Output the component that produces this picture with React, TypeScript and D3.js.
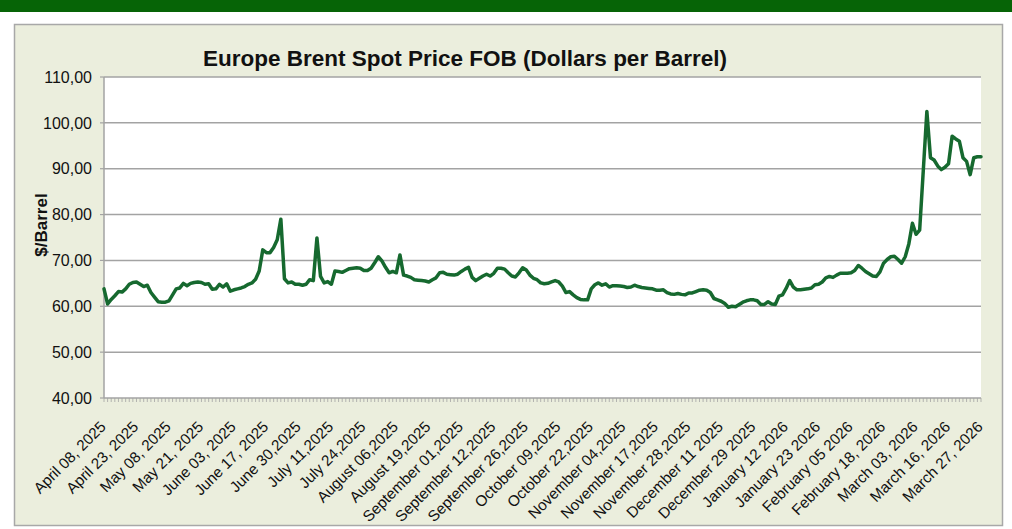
import * as d3 from 'd3'

const TITLE = 'Europe Brent Spot Price FOB (Dollars per Barrel)'
const Y_TITLE = '$/Barrel'

// daily Brent price, one value per trading day
const BRENT_PRICES = [
  63.8, 60.5, 61.5, 62.3, 63.2, 63.1, 63.8, 64.8, 65.2, 65.3,
  64.8, 64.3, 64.6, 63.0, 62.0, 61.0, 60.9, 60.9, 61.2, 62.5,
  63.8, 64.0, 65.0, 64.5, 65.0, 65.2, 65.3, 65.2, 64.8, 64.9,
  63.7, 63.8, 64.8, 64.2, 64.9, 63.3, 63.6, 63.8, 64.0, 64.3,
  64.8, 65.1, 65.9, 67.7, 72.3, 71.7, 71.7, 72.8, 74.5, 79.0,
  66.0, 65.1, 65.3, 64.8, 64.8, 64.6, 64.8, 65.8, 65.6, 74.9,
  66.5, 65.1, 65.4, 64.8, 67.7, 67.6, 67.4, 67.8, 68.2, 68.3,
  68.4, 68.3, 67.8, 67.8, 68.3, 69.5, 70.8, 69.9, 68.5, 67.3,
  67.6, 67.3, 71.2, 66.8, 66.6, 66.3, 65.8, 65.7, 65.6, 65.5,
  65.3, 65.8, 66.2, 67.3, 67.4, 67.0, 66.9, 66.8, 67.0, 67.6,
  68.1, 68.5, 66.3, 65.6, 66.1, 66.6, 67.0, 66.6, 67.2, 68.3,
  68.3, 68.1, 67.3, 66.6, 66.4, 67.3, 68.4, 67.9, 66.8, 66.1,
  65.8, 65.1, 64.9, 65.0, 65.3, 65.6, 65.3, 64.4, 63.0, 63.2,
  62.5, 61.9, 61.5, 61.4, 61.4, 63.8, 64.7, 65.1, 64.6, 64.9,
  64.2, 64.5, 64.5, 64.4, 64.3, 64.1, 64.2, 64.6, 64.3, 64.1,
  64.0, 63.9, 63.8, 63.5, 63.5, 63.6, 63.0, 62.7, 62.6, 62.8,
  62.6, 62.5, 62.9, 62.9, 63.2, 63.5, 63.6, 63.5, 63.0, 61.7,
  61.4, 61.1, 60.6, 59.8, 60.0, 59.9, 60.4, 60.9, 61.2, 61.4,
  61.4, 61.2, 60.4, 60.4, 61.0, 60.5, 60.4, 62.2, 62.5, 63.9,
  65.6, 64.2, 63.6, 63.6, 63.7, 63.8, 64.0, 64.7, 64.8, 65.3,
  66.2, 66.5, 66.3, 66.8, 67.2, 67.2, 67.2, 67.3, 67.8, 68.9,
  68.3, 67.6, 67.1, 66.6, 66.5, 67.5, 69.4, 70.2, 70.8, 70.9,
  70.2, 69.4, 70.8, 73.6, 78.1, 75.7, 76.6, 89.5, 102.5, 92.4,
  91.9, 90.6, 89.8, 90.3, 91.1, 97.1, 96.5, 96.0, 92.4, 91.6,
  88.7, 92.4, 92.6, 92.6,
]

// category labels, one every LABEL_STEP trading days
const LABEL_STEP = 9
const DATE_LABELS = [
  'April 08, 2025', 'April 23, 2025', 'May 08, 2025', 'May 21, 2025',
  'June 03, 2025', 'June 17, 2025', 'June 30,2025', 'July 11,2025',
  'July 24,2025', 'August 06,2025', 'August 19,2025', 'September 01,2025',
  'September 12,2025', 'September 26,2025', 'October 09,2025', 'October 22,2025',
  'November 04,2025', 'November 17,2025', 'November 28,2025', 'December 11 2025',
  'December 29 2025', 'January 12 2026', 'January 23 2026', 'February 05 2026',
  'February 18, 2026', 'March 03, 2026', 'March 16, 2026', 'March 27, 2026',
]

const Y_TICKS = [40, 50, 60, 70, 80, 90, 100, 110]

const WIDTH = 1012
const HEIGHT = 529
const PLOT = { left: 104, right: 981, top: 77, bottom: 398 }
const FONT = 'Arial, "Liberation Sans", sans-serif'
const GRID = '#a3a3a3'

export default function App() {
  const x = d3
    .scaleLinear()
    .domain([0, BRENT_PRICES.length - 1])
    .range([PLOT.left, PLOT.right])
  const y = d3.scaleLinear().domain([40, 110]).range([PLOT.bottom, PLOT.top])
  const line = d3
    .line<number>()
    .x((_, i) => x(i))
    .y((d) => y(d))
  const fmt = (v: number) => v.toFixed(2).replace('.', ',')

  return (
    <svg
      width={WIDTH}
      height={HEIGHT}
      style={{ position: 'absolute', left: 0, top: 0, display: 'block' }}
      fontFamily={FONT}
    >
      <rect x={0} y={0} width={WIDTH} height={HEIGHT} fill="#ffffff" />
      <rect x={0} y={0} width={WIDTH} height={12} fill="#066406" />
      <rect x={14.5} y={24.5} width={988} height={501} fill="#ebeedd" stroke="#a8a8a8" strokeWidth={1.5} />

      <rect
        x={PLOT.left}
        y={PLOT.top}
        width={PLOT.right - PLOT.left}
        height={PLOT.bottom - PLOT.top}
        fill="#ffffff"
      />

      {Y_TICKS.map((t) => (
        <g key={t}>
          {t > 40 && (
            <line x1={PLOT.left} x2={PLOT.right} y1={y(t)} y2={y(t)} stroke={GRID} strokeWidth={1.5} />
          )}
          <line x1={PLOT.left - 4} x2={PLOT.left} y1={y(t)} y2={y(t)} stroke={GRID} strokeWidth={1.2} />
          <text x={92} y={y(t)} dy="0.36em" textAnchor="end" fontSize={16} fill="#111">
            {fmt(t)}
          </text>
        </g>
      ))}

      <line x1={PLOT.left} x2={PLOT.left} y1={PLOT.top} y2={PLOT.bottom} stroke={GRID} strokeWidth={1.5} />
      <line x1={PLOT.left} x2={PLOT.right} y1={PLOT.bottom} y2={PLOT.bottom} stroke={GRID} strokeWidth={1.5} />
      {BRENT_PRICES.map((_, i) => (
        <line
          key={i}
          x1={x(i)}
          x2={x(i)}
          y1={PLOT.bottom}
          y2={PLOT.bottom + 4}
          stroke={GRID}
          strokeWidth={0.8}
        />
      ))}

      {DATE_LABELS.map((label, k) => (
        <text
          key={label}
          transform={`translate(${x(k * LABEL_STEP) - 1},${PLOT.bottom + 26}) rotate(-45)`}
          dy="0.35em"
          textAnchor="end"
          fontSize={15.3}
          fill="#111"
        >
          {label}
        </text>
      ))}

      <path
        d={line(BRENT_PRICES) ?? undefined}
        fill="none"
        stroke="#16692f"
        strokeWidth={3.5}
        strokeLinejoin="round"
        strokeLinecap="round"
      />

      <text x={465} y={66} textAnchor="middle" fontSize={22.5} fontWeight="bold" fill="#111">
        {TITLE}
      </text>
      <text
        transform={`translate(47,225) rotate(-90)`}
        textAnchor="middle"
        fontSize={17}
        fontWeight="bold"
        fill="#111"
      >
        {Y_TITLE}
      </text>
    </svg>
  )
}
